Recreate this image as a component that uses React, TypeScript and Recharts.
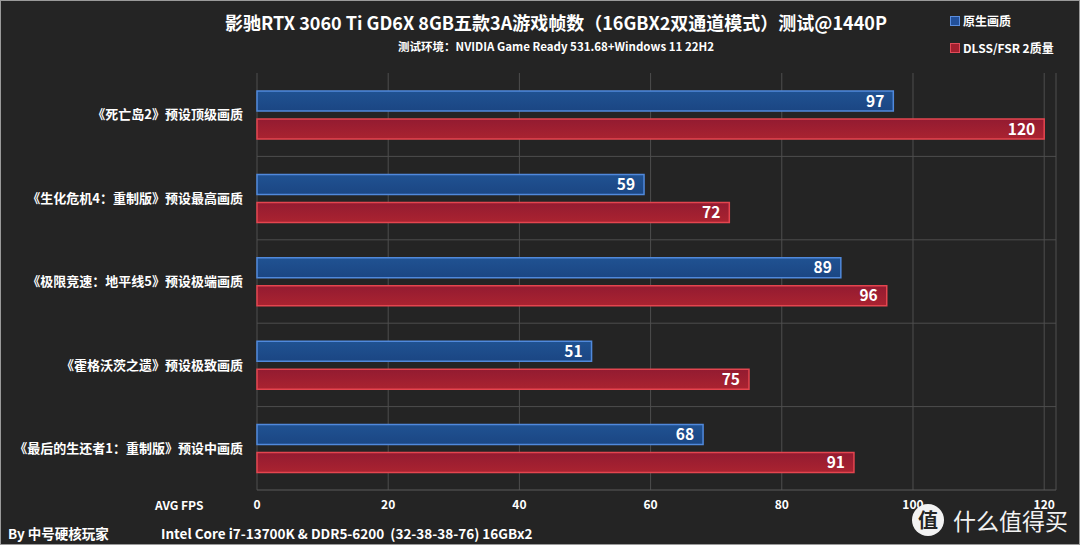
import React from "react";
import {
  BarChart,
  Bar,
  XAxis,
  YAxis,
  CartesianGrid,
  LabelList,
} from "recharts";

const games = [
  "《死亡岛2》预设顶级画质",
  "《生化危机4：重制版》预设最高画质",
  "《极限竞速：地平线5》预设极端画质",
  "《霍格沃茨之遗》预设极致画质",
  "《最后的生还者1：重制版》预设中画质",
];
const nativeFps = [97, 59, 89, 51, 68];
const upscaleFps = [120, 72, 96, 75, 91];
const xTicks = [0, 20, 40, 60, 80, 100, 120];
const seriesNames = ["原生画质", "DLSS/FSR 2质量"];

const FONT = '"Noto Sans CJK SC", "Noto Sans", sans-serif';

const data = games.map((game, i) => ({
  game,
  native: nativeFps[i],
  upscale: upscaleFps[i],
}));

function App() {
  // lines between the categories, not through their centres
  const gridLines = ({ offset }: any) => {
    const out: number[] = [];
    for (let i = 1; i < games.length; i++) {
      out.push(offset.top + (offset.height * i) / games.length);
    }
    return out;
  };

  return (
    <div
      style={{
        position: "relative",
        width: 1080,
        height: 545,
        background: "#242424",
        fontFamily: FONT,
        color: "#fff",
        boxSizing: "border-box",
        border: "1px solid #9a9a9a",
        overflow: "hidden",
      }}
    >
      <style>{"body{margin:0}"}</style>

      <div
        style={{
          position: "absolute",
          left: 0,
          width: 1110,
          top: 8,
          textAlign: "center",
          fontSize: 18,
          fontWeight: 700,
        }}
      >
        影驰RTX 3060 Ti GD6X 8GB五款3A游戏帧数（16GBX2双通道模式）测试@1440P
      </div>
      <div
        style={{
          position: "absolute",
          left: 0,
          width: 1110,
          top: 37,
          textAlign: "center",
          fontSize: 11.5,
          fontWeight: 700,
        }}
      >
        测试环境：NVIDIA Game Ready 531.68+Windows 11 22H2
      </div>

      {/* legend */}
      <div style={{ position: "absolute", left: 949, top: 11, fontSize: 12, fontWeight: 700 }}>
        <span
          style={{
            display: "inline-block",
            width: 8,
            height: 8,
            background: "#22509a",
            border: "1px solid #5a8ee0",
            marginRight: 3,
          }}
        />
        {seriesNames[0]}
      </div>
      <div style={{ position: "absolute", left: 949, top: 38, fontSize: 12, fontWeight: 700 }}>
        <span
          style={{
            display: "inline-block",
            width: 8,
            height: 8,
            background: "#a4202f",
            border: "1px solid #e04a58",
            marginRight: 3,
          }}
        />
        {seriesNames[1]}
      </div>

      <BarChart
        width={1080}
        height={545}
        data={data}
        layout="vertical"
        margin={{ top: 73, right: 24, bottom: 0, left: 0 }}
        barSize={20}
        barGap={8}
        style={{ position: "absolute", left: -1, top: -1 }}
      >
        <defs>
          <linearGradient id="blueFill" x1="0" y1="0" x2="0" y2="1">
            <stop offset="0%" stopColor="#205292" />
            <stop offset="100%" stopColor="#1b4683" />
          </linearGradient>
          <linearGradient id="redFill" x1="0" y1="0" x2="0" y2="1">
            <stop offset="0%" stopColor="#931b31" />
            <stop offset="100%" stopColor="#aa2330" />
          </linearGradient>
        </defs>
        <CartesianGrid
          stroke="#4e4e4e"
          strokeWidth={1}
          horizontalCoordinatesGenerator={gridLines}
        />
        <XAxis
          type="number"
          domain={[0, 121.8]}
          ticks={xTicks}
          height={55}
          tickLine={false}
          tickSize={0}
          tickMargin={10}
          axisLine={{ stroke: "#5a5a5a" }}
          tick={{ fill: "#fff", fontSize: 12, fontWeight: 700, fontFamily: FONT }}
        />
        <YAxis
          type="category"
          dataKey="game"
          width={257}
          tickLine={false}
          axisLine={false}
          tickSize={0}
          tickMargin={14}
          tick={{ fill: "#fff", fontSize: 13, fontWeight: 700, fontFamily: FONT }}
        />
        <Bar
          dataKey="native"
          fill="url(#blueFill)"
          stroke="#5089dc"
          strokeWidth={1.5}
          isAnimationActive={false}
        >
          <LabelList
            dataKey="native"
            position="insideRight"
            offset={9}
            fill="#fff"
            fontSize={15.5}
            fontWeight={700}
            fontFamily={FONT}
          />
        </Bar>
        <Bar
          dataKey="upscale"
          fill="url(#redFill)"
          stroke="#e4454f"
          strokeWidth={1.5}
          isAnimationActive={false}
        >
          <LabelList
            dataKey="upscale"
            position="insideRight"
            offset={9}
            fill="#fff"
            fontSize={15.5}
            fontWeight={700}
            fontFamily={FONT}
          />
        </Bar>
      </BarChart>

      <div style={{ position: "absolute", left: 154, top: 495, fontSize: 12, fontWeight: 700 }}>
        AVG FPS
      </div>
      <div style={{ position: "absolute", left: 7, top: 522, fontSize: 13.5, fontWeight: 700 }}>
        By 中号硬核玩家
      </div>
      <div style={{ position: "absolute", left: 160, top: 522, fontSize: 13.5, fontWeight: 600 }}>
        Intel Core i7-13700K &amp; DDR5-6200&nbsp; (32-38-38-76) 16GBx2
      </div>

      {/* watermark, sits over the last tick labels as in the source image */}
      <div
        style={{
          position: "absolute",
          left: 911,
          top: 503,
          width: 32,
          height: 32,
          borderRadius: 16,
          background: "#f2f2f2",
          color: "#242424",
          fontSize: 20,
          fontWeight: 700,
          lineHeight: "32px",
          textAlign: "center",
        }}
      >
        值
      </div>
      <div
        style={{
          position: "absolute",
          left: 952,
          top: 502,
          fontSize: 23,
          color: "#f2f2f2",
        }}
      >
        什么值得买
      </div>
    </div>
  );
}

export default App;
